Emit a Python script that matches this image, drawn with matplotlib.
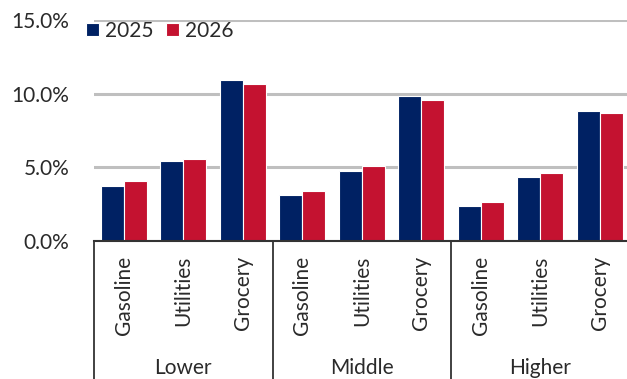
import numpy as np
import matplotlib
matplotlib.use("Agg")
import matplotlib.pyplot as plt
import matplotlib.transforms as mtransforms

plt.rcParams['font.family'] = ['Lato', 'DejaVu Sans']

groups = ["Lower", "Middle", "Higher"]
categories = ["Gasoline", "Utilities", "Grocery"]
series_names = ["2025", "2026"]

# share of spending, percent, per group x category
values_2025 = [3.75, 5.4, 10.9, 3.1, 4.75, 9.82, 2.4, 4.32, 8.83]
values_2026 = [4.05, 5.56, 10.68, 3.38, 5.07, 9.6, 2.65, 4.6, 8.67]

yticks = [0, 5, 10, 15]

navy = "#002163"
red = "#C41230"
grid_gray = "#BFBFBF"
text_color = "#2a2a2a"

fig = plt.figure(figsize=(6.27, 3.79), dpi=100)
ax = fig.add_axes([0.15, 0.364, 0.854, 0.583])

n_cat = len(categories)
x = np.arange(len(groups) * n_cat)
w = 0.385

ax.bar(x - w / 2, values_2025, width=w, color=navy, edgecolor="white",
       linewidth=0.8, label=series_names[0], zorder=3)
ax.bar(x + w / 2, values_2026, width=w, color=red, edgecolor="white",
       linewidth=0.8, label=series_names[1], zorder=3)

ax.set_xlim(-0.5, len(x) - 0.5)
ax.set_ylim(0, 15)
ax.set_yticks(yticks)
ax.set_yticklabels([f"{v:.1f}%" for v in yticks], fontsize=15, color=text_color)
ax.tick_params(axis="y", length=0, pad=18)
ax.set_xticks([])

for s in ["top", "right", "left"]:
    ax.spines[s].set_visible(False)
ax.spines["bottom"].set_color("#333333")
ax.spines["bottom"].set_linewidth(1.5)
ax.spines["bottom"].set_zorder(4)

ax.yaxis.grid(True, color=grid_gray, linewidth=2.2, zorder=0)
ax.set_axisbelow(True)

# two-level category axis below the plot
trans = mtransforms.blended_transform_factory(ax.transData, ax.transAxes)
for i, xi in enumerate(x):
    ax.text(xi, -0.065, categories[i % n_cat], transform=trans, rotation=90,
            ha="center", va="top", fontsize=15, color=text_color)

for g, name in enumerate(groups):
    center = g * n_cat + (n_cat - 1) / 2
    ax.text(center, -0.575, name, transform=trans, ha="center", va="center",
            fontsize=15, color=text_color)

for b in range(len(groups) + 1):
    xb = b * n_cat - 0.5
    ax.plot([xb, xb], [0, -0.7], transform=trans, color="#333333",
            linewidth=1.3, clip_on=False)

leg = ax.legend(loc="upper left", bbox_to_anchor=(-0.03, 1.033), ncol=2,
                frameon=False, fontsize=15, handlelength=0.6, handleheight=0.6,
                handletextpad=0.3, columnspacing=0.6, borderaxespad=0)
for t in leg.get_texts():
    t.set_color(text_color)

fig.savefig("out.png", dpi=100)
